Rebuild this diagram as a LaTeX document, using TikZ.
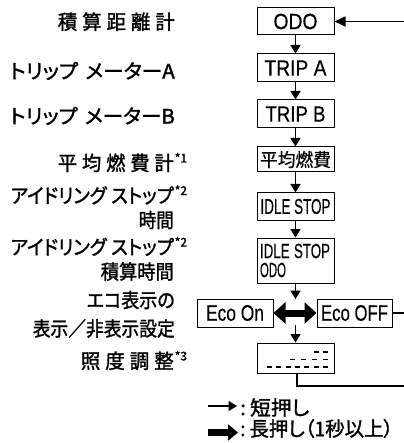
\documentclass[tikz,border=0pt]{standalone}
\usepackage{fontspec}
\setmainfont{Liberation Sans}[FakeBold=0.5]
\newfontfamily\jp{Noto Sans CJK JP}[FakeBold=1.5,RawFeature={+palt}]
\newfontfamily\jpbox{Noto Sans CJK JP}[FakeBold=0.5]
\usepackage{graphicx}
\usetikzlibrary{arrows.meta}
\newcommand{\fitw}[2]{\resizebox{#1}{\height}{#2}}
\newcommand{\ls}{\hspace{5pt}}
\newcommand{\supmark}[1]{\rlap{\hspace{1pt}\raisebox{8pt}{\fontsize{12}{12}\selectfont #1}}}
\tikzset{
  box/.style={draw, line width=1pt, minimum width=77pt, inner sep=0pt, font=\fontsize{22}{22}\selectfont},
  lbl/.style={anchor=east, inner sep=0pt, font=\jp\fontsize{20}{22}\selectfont},
  leg/.style={anchor=west, inner sep=0pt, font=\jp\fontsize{20}{22}\selectfont},
  conn/.style={line width=1.5pt},
  arr/.style={line width=1.5pt, -{Triangle[length=8.5pt,width=10pt]}},
  bigarr/.style={line width=7pt, {Triangle[length=12pt,width=21pt]}-{Triangle[length=12pt,width=21pt]}},
  legbig/.style={line width=7pt, -{Triangle[length=10pt,width=16pt]}},
  dashseg/.style={line width=1.1pt}
}
\begin{document}
\begin{tikzpicture}[x=1pt,y=-1pt]
\useasboundingbox (0,0) rectangle (403,443);
% labels
\node[lbl] (L1) at (175,21.7) {\fitw{117pt}{積\ls 算\ls 距\ls 離\ls 計}};
\node[lbl] (L2) at (175,71) {\fitw{165pt}{トリップ\hspace{7pt}メーターA}};
\node[lbl] (L3) at (175,116) {\fitw{165pt}{トリップ\hspace{7pt}メーターB}};
\node[lbl] (L4) at (174,162.5) {\fitw{116pt}{平\ls 均\ls 燃\ls 費\ls 計}\supmark{*1}};
\node[lbl] (L5a) at (174,195) {\fitw{163pt}{アイドリング\hspace{5pt}ストップ}\supmark{*2}};
\node[lbl] (L5b) at (174,220) {\fitw{35pt}{時間}};
\node[lbl] (L6a) at (174,246.5) {\fitw{163pt}{アイドリング\hspace{5pt}ストップ}\supmark{*2}};
\node[lbl] (L6b) at (174,271.5) {\fitw{73pt}{積算時間}};
\node[lbl] (L7a) at (175,300) {\fitw{88pt}{エコ表示の}};
\node[lbl] (L7b) at (175,328.5) {\fitw{142pt}{表示／非表示設定}};
\node[lbl] (L8) at (174,360.5) {\fitw{93pt}{照\ls 度\ls 調\ls 整}\supmark{*3}};
% boxes
\node[box, minimum height=27pt] (odo) at (295.5,21.5) {\fitw{44pt}{ODO}};
\node[box, minimum height=28pt] (tripa) at (295.5,68) {\fitw{62pt}{TRIP A}};
\node[box, minimum height=28pt] (tripb) at (295.5,114) {\fitw{60pt}{TRIP B}};
\node[box, minimum height=25pt, font=\jpbox\fontsize{18.5}{18}\selectfont] (avg) at (295.5,159.5) {\fitw{71pt}{平均燃費}};
\node[box, minimum height=27pt, font=\fontsize{21.5}{21}\selectfont] (idle) at (295.5,206.5) {\fitw{70pt}{IDLE STOP}};
\node[box, minimum height=45pt, text width=71pt, inner xsep=3pt, align=left, font=\fontsize{20.5}{19}\selectfont] (idleodo) at (295.5,260.5) {\fitw{70pt}{IDLE STOP}\\\fitw{26pt}{ODO}};
\node[box, minimum width=76pt, minimum height=28pt, font=\fontsize{22.5}{22}\selectfont] (ecoon) at (235,313) {\fitw{58pt}{Eco On}};
\node[box, minimum width=75pt, minimum height=28pt, font=\fontsize{22.5}{22}\selectfont] (ecooff) at (354.5,313) {\fitw{67pt}{Eco OFF}};
\node[box, minimum height=30pt] (bright) at (295.5,358) {};
% brightness pattern
\foreach \x in {314,323} \draw[dashseg] (\x,352) -- ++(5,0);
\foreach \k in {0,...,3} \draw[dashseg] (290+\k*11,359.5) -- ++(5,0);
\foreach \k in {0,...,6} \draw[dashseg] (267+\k*9.33,367) -- ++(5,0);
% connectors
\draw[arr] (odo) -- (tripa);
\draw[arr] (tripa) -- (tripb);
\draw[arr] (tripb) -- (avg);
\draw[arr] (avg) -- (idle);
\draw[arr] (idle) -- (idleodo);
\coordinate (ecotop) at (295.5,299);
\coordinate (ecobot) at (295.5,325);
\draw[arr] (idleodo.south) -- (ecotop);
\draw[arr] (ecobot) -- (bright.north);
\draw[bigarr] (ecoon.east) -- (ecooff.west);
\coordinate (cbr) at (406,386);
\draw[conn, -{Triangle[length=11pt,width=10pt]}] ([xshift=1.5pt]bright.south) |- (cbr) |- (odo.east);
\draw[conn] (ecooff.east) -- (ecooff.east -| cbr);
% legend
\coordinate (lt1) at (208,406);
\coordinate (lt2) at (237,406);
\coordinate (lk1) at (208,432.5);
\coordinate (lk2) at (238,432.5);
\draw[arr] (lt1) -- (lt2);
\draw[legbig] (lk1) -- (lk2);
\node[leg] (leg1) at (240,407.5) {\fitw{69pt}{:\hspace{4pt}短押し}};
\node[leg] (leg2) at (240,428.5) {\fitw{153pt}{:\hspace{4pt}長押し（1秒以上）}};
\end{tikzpicture}
\end{document}
